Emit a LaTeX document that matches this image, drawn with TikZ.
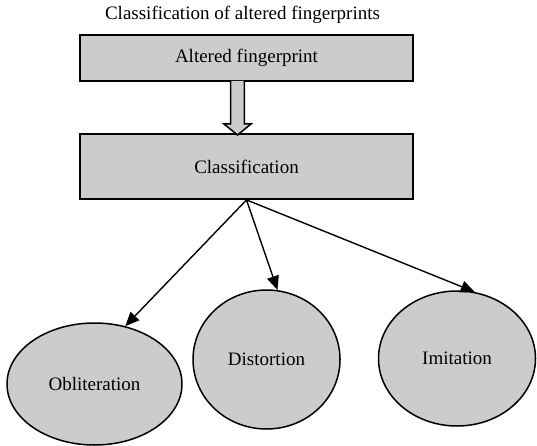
\documentclass[tikz,border=0pt]{standalone}
\usepackage{fontspec}
\setmainfont{Liberation Serif}
\usetikzlibrary{arrows.meta,shapes.geometric}

\tikzset{
	box/.style={draw, line width=1.8pt, fill=black!20, minimum width=333pt, inner sep=0pt},
	leaf/.style={ellipse, draw, line width=1.5pt, fill=black!20, inner sep=0pt},
	link/.style={-{Triangle[length=14pt,width=12pt]}, line width=1.4pt}
}

\begin{document}
\begin{tikzpicture}[x=1pt, y=-1pt, font=\fontsize{19}{22}\selectfont]
		\useasboundingbox (0,0) rectangle (537,446);
		\draw (242.5,15) node (title) {Classification of altered fingerprints};
		\draw (246.5,58) node [box, minimum height=46pt] (alt) {Altered fingerprint};
		\draw (246.5,166.5) node [box, minimum height=65pt] (cls) {Classification};
		\draw (94.5,384) node [leaf, minimum width=175pt, minimum height=122pt] (obl) {Obliteration};
		\draw (266.5,359.5) node [leaf, minimum width=147pt, minimum height=139pt] (dis) {Distortion};
		\draw (457,358.5) node [leaf, minimum width=157pt, minimum height=135pt] (imi) {Imitation};

		% hollow arrow between the boxes
		\draw [line width=1.5pt, fill=black!20]
			(230.7,81) -- (230.7,124) -- (224,124) -- (237.5,135) -- (251,124)
			-- (244.3,124) -- (244.3,81);

		\draw
			(cls.south) edge [link] (obl.62)
			(cls.south) edge [link] (dis.81)
			(cls.south) edge [link] (imi.75)
		;
	\end{tikzpicture}
\end{document}
